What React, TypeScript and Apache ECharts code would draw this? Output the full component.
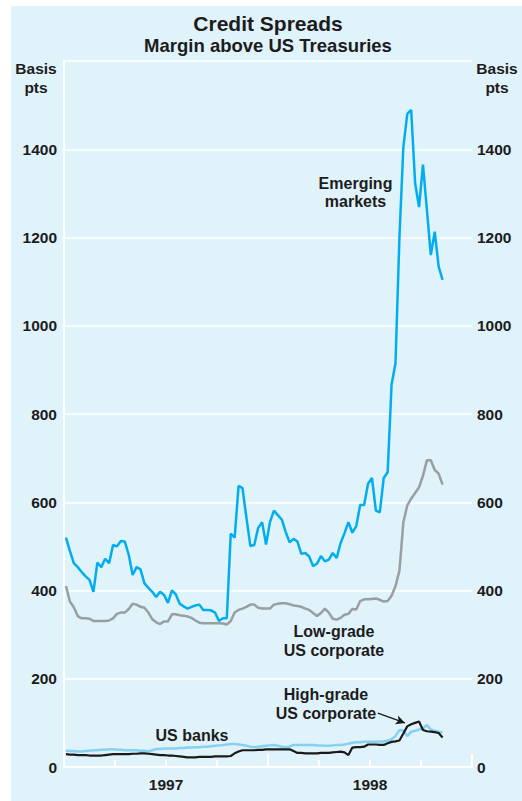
import React, { useEffect, useRef } from "react";
import * as echarts from "echarts";

// Weekly observations, first week of January 1997 onward (basis points)
const emergingMarkets = [
  520, 490, 462, 453, 442, 432, 424, 397, 463, 453, 472, 462, 503, 500, 512, 511,
  481, 435, 453, 448, 416, 406, 397, 385, 397, 390, 372, 400, 391, 370, 364, 359,
  363, 366, 368, 356, 356, 355, 350, 331, 337, 337, 529, 520, 637, 632, 565, 501,
  503, 542, 555, 504, 555, 581, 571, 561, 533, 509, 517, 511, 483, 485, 477, 455,
  461, 478, 466, 470, 485, 474, 507, 530, 555, 531, 546, 594, 594, 642, 655, 581,
  577, 655, 668, 867, 915, 1200, 1405, 1480, 1489, 1323, 1269, 1365, 1263, 1160, 1213, 1134,
  1104,
];
const lowGradeCorporate = [
  410, 375, 362, 342, 337, 337, 336, 331, 331, 331, 331, 332, 337, 347, 350, 350,
  358, 370, 368, 363, 361, 350, 335, 328, 324, 330, 330, 346, 346, 344, 343, 341,
  338, 332, 327, 326, 326, 326, 326, 326, 325, 323, 331, 350, 356, 359, 363, 368,
  368, 361, 359, 359, 359, 368, 370, 371, 371, 369, 366, 365, 363, 359, 356, 349,
  342, 349, 359, 350, 336, 334, 338, 345, 347, 358, 357, 376, 380, 380, 381, 382,
  379, 375, 376, 388, 410, 445, 554, 593, 608, 621, 634, 660, 695, 695, 673, 665,
  640,
];
const usBanks = [
  37, 36, 36, 35, 35, 36, 37, 38, 38, 39, 39, 40, 40, 39, 39, 38,
  38, 38, 38, 37, 37, 35, 38, 41, 41, 42, 42, 42, 42, 43, 43, 44,
  44, 45, 45, 46, 46, 47, 48, 49, 50, 51, 52, 52, 51, 50, 48, 46,
  45, 46, 47, 48, 49, 50, 48, 46, 45, 46, 50, 50, 50, 50, 50, 50,
  49, 49, 48, 48, 49, 50, 50, 51, 53, 55, 56, 56, 57, 57, 57, 57,
  58, 58, 60, 63, 70, 84, 82, 70, 80, 82, 85, 88, 95, 85, 82, 80,
  78,
];
const highGradeCorporate = [
  29, 28, 28, 27, 27, 27, 26, 26, 26, 26, 27, 28, 29, 29, 29, 29,
  29, 30, 30, 31, 31, 30, 29, 28, 27, 27, 26, 26, 25, 24, 23, 22,
  22, 22, 23, 23, 23, 23, 24, 24, 24, 24, 25, 31, 35, 38, 38, 38,
  38, 39, 39, 40, 40, 40, 40, 40, 40, 40, 36, 32, 32, 31, 31, 31,
  31, 32, 32, 32, 33, 34, 35, 33, 27, 44, 45, 45, 46, 51, 51, 51,
  50, 50, 54, 57, 58, 60, 76, 92, 97, 100, 103, 84, 81, 80, 79, 77,
  67,
];

const firstWeek = 0.5; // weeks after start of 1997
const yearLabels: Record<number, string> = { 26: "1997", 78: "1998" };
const yTicks = { min: 0, max: 1600, interval: 200 };

const FONT = '"Liberation Sans", Arial, Helvetica, sans-serif';
const INK = "#1c1c1c";

const pts = (arr: number[]) => arr.map((v, i) => [firstWeek + i, v]);

export default function App() {
  const ref = useRef<HTMLDivElement>(null);
  useEffect(() => {
    if (!ref.current) return;
    const chart = echarts.init(ref.current, undefined, { renderer: "svg" });
    const txt = (text: string, x: number, y: number, size = 16, extra: any = {}) => ({
      type: "text",
      x,
      y,
      z: 100,
      style: {
        text,
        fill: INK,
        fontFamily: FONT,
        fontWeight: "bold",
        fontSize: size,
        align: "center",
        verticalAlign: "middle",
        textAlign: "center",
        textVerticalAlign: "middle",
        lineHeight: 18.5,
        ...extra,
      },
    });
    const yAxisBase = {
      type: "value",
      min: yTicks.min,
      max: yTicks.max,
      interval: yTicks.interval,
      axisLine: { show: true, lineStyle: { color: "#ffffff", width: 2 } },
      axisTick: { show: false },
      axisLabel: {
        formatter: (v: number) => (v === yTicks.max ? "" : String(v)),
        color: INK,
        fontFamily: FONT,
        fontWeight: "bold",
        fontSize: 15.5,
      },
    };
    chart.setOption({
      animation: false,
      backgroundColor: "transparent",
      grid: { left: 64, right: 50, top: 61, bottom: 34 },
      xAxis: [
        {
          type: "value",
          min: 0,
          max: 104,
          interval: 13,
          axisLine: { show: true, lineStyle: { color: "#ffffff", width: 2 } },
          axisTick: { show: true, inside: true, length: 7, lineStyle: { color: "#ffffff", width: 2 } },
          splitLine: { show: false },
          axisLabel: {
            formatter: (v: number) => yearLabels[v] || "",
            color: INK,
            fontFamily: FONT,
            fontWeight: "bold",
            fontSize: 15.5,
            margin: 9,
            showMinLabel: true,
            showMaxLabel: true,
          },
        },
        {
          type: "value",
          position: "bottom",
          min: 0,
          max: 104,
          interval: 52,
          axisLine: { show: false },
          axisTick: { show: true, inside: true, length: 13, lineStyle: { color: "#ffffff", width: 2 } },
          splitLine: { show: false },
          axisLabel: { show: false },
        },
      ],
      yAxis: [
        {
          ...yAxisBase,
          position: "left",
          splitLine: { show: true, lineStyle: { color: "#ffffff", width: 1.5 } },
          axisLabel: { ...yAxisBase.axisLabel, margin: 7 },
        },
        {
          ...yAxisBase,
          position: "right",
          splitLine: { show: false },
          axisLabel: { ...yAxisBase.axisLabel, margin: 5 },
        },
      ],
      series: [
        {
          name: "Low-grade US corporate",
          type: "line",
          data: pts(lowGradeCorporate),
          showSymbol: false,
          lineStyle: { color: "#979fa3", width: 2.5 },
          z: 3,
        },
        {
          name: "Emerging markets",
          type: "line",
          data: pts(emergingMarkets),
          showSymbol: false,
          lineStyle: { color: "#00aeef", width: 2.5 },
          z: 4,
        },
        {
          name: "US banks",
          type: "line",
          data: pts(usBanks),
          showSymbol: false,
          lineStyle: { color: "#86d0f2", width: 2.5 },
          z: 3,
        },
        {
          name: "High-grade US corporate",
          type: "line",
          data: pts(highGradeCorporate),
          showSymbol: false,
          lineStyle: { color: "#1a1a1a", width: 2.2 },
          z: 4,
          markLine: {
            silent: true,
            symbol: ["none", "arrow"],
            symbolSize: [7, 9],
            label: { show: false },
            lineStyle: { color: "#1a1a1a", width: 1.2, type: "solid" },
            data: [[{ coord: [80, 122] }, { coord: [86.9, 100] }]],
          },
        },
      ],
      graphic: [
        txt("Credit Spreads", 268, 23, 21),
        txt("Margin above US Treasuries", 268, 45, 18.5),
        txt("Basis\npts", 36, 78, 15.5),
        txt("Basis\npts", 497, 78, 15.5),
        txt("Emerging\nmarkets", 355.5, 192.5),
        txt("Low-grade\nUS corporate", 334, 641),
        txt("High-grade\nUS corporate", 326, 704),
        txt("US banks", 192, 735),
      ],
    });
    return () => chart.dispose();
  }, []);
  return (
    <div style={{ position: "absolute", left: 0, top: 0, width: 522, height: 801, background: "#ffffff" }}>
      <div style={{ position: "absolute", left: 11, top: 6, width: 511, height: 795, background: "#e0f2fa" }} />
      <div ref={ref} style={{ position: "absolute", left: 0, top: 0, width: 522, height: 801 }} />
    </div>
  );
}
